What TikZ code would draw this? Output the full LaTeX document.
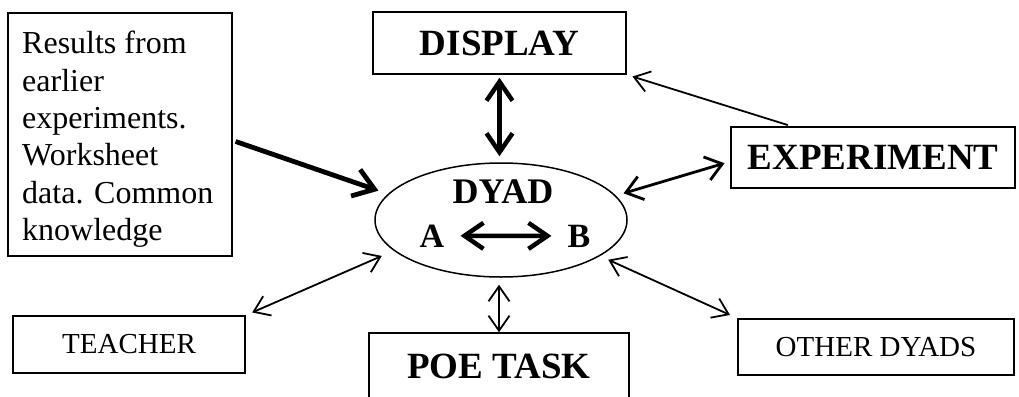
\documentclass[tikz,border=0pt]{standalone}
\usepackage{fontspec}
\setmainfont{Liberation Serif}
\usetikzlibrary{arrows.meta,shapes.geometric,calc}
\begin{document}
\begin{tikzpicture}[x=1pt,y=-1pt,
  box/.style={draw, line width=1.5pt, inner sep=0pt},
  bigtxt/.style={font=\fontsize{37}{40}\selectfont\bfseries},
  smalltxt/.style={font=\fontsize{29}{32}\selectfont},
  thinarr/.style={line width=1.8pt, {Straight Barb[length=15pt,width=21pt]}-{Straight Barb[length=15pt,width=21pt]}},
  thinone/.style={line width=1.8pt, -{Straight Barb[length=15pt,width=21pt]}},
  medarr/.style={line width=2.8pt, {Straight Barb[length=16pt,width=24pt]}-{Straight Barb[length=16pt,width=24pt]}},
  thickarr/.style={line width=4.5pt, {Straight Barb[length=19pt,width=26pt]}-{Straight Barb[length=19pt,width=26pt]}},
  thickone/.style={line width=4.8pt, -{Straight Barb[length=20pt,width=28pt]}}
]
\useasboundingbox (0,0) rectangle (1019,396);
\clip (0,0) rectangle (1019,396);

% boxes
\node[box, minimum width=224pt, minimum height=243pt] (res) at (120,134.5) {};
\node[anchor=north west, align=left, inner sep=0pt, font=\fontsize{32}{37.4}\selectfont] (restext) at (22,31)
  {Results from\\earlier\\experiments.\\Worksheet\\data. Common\\knowledge};

\node[box, bigtxt, minimum width=253pt, minimum height=62pt] (disp) at (499.5,43) {DISPLAY};
\node[box, bigtxt, minimum width=284pt, minimum height=61pt] (exp) at (873,157.5) {EXPERIMENT};
\node[box, bigtxt, minimum width=260pt, minimum height=67pt] (poe) at (499,366.5) {POE TASK};
\node[box, smalltxt, minimum width=232pt, minimum height=57pt] (teach) at (129,344.5) {TEACHER};
\node[box, smalltxt, minimum width=276pt, minimum height=56pt] (other) at (876,347) {OTHER DYADS};

% dyad
\node[draw, line width=1.5pt, ellipse, inner sep=0pt, minimum width=252pt, minimum height=114pt] (dyad) at (501,220) {};
\node[font=\fontsize{36}{40}\selectfont\bfseries, anchor=base] (dyadlbl) at (503,203) {DYAD};
\node[font=\fontsize{34}{38}\selectfont\bfseries, anchor=base, inner sep=0pt] (A) at (432,247) {A};
\node[font=\fontsize{34}{38}\selectfont\bfseries, anchor=base, inner sep=0pt] (B) at (579,247) {B};

% connectors
\draw[thickarr, shorten <=16pt, shorten >=16pt] (A.east) -- (B.west);
\draw[thickarr, shorten <=3pt, shorten >=6pt] (disp.south) -- (disp.south |- dyad.north);
\draw[thickone, shorten <=3pt, shorten >=10pt] ([yshift=-6pt]res.east) -- (dyad.167);
\draw[thinone, shorten <=4pt, shorten >=6pt] ($(exp.north west)!0.215!(exp.north east)$) -- (disp.south east);
\draw[medarr, shorten <=6pt, shorten >=8pt] ([yshift=-4pt]exp.west) -- (dyad.12);
\draw[thinarr, shorten <=7pt, shorten >=13pt] (teach.north east) -- (dyad.196);
\draw[thinarr, shorten <=0pt, shorten >=7pt] (poe.north) -- (poe.north |- dyad.south);
\draw[thinarr, shorten <=9pt, shorten >=8pt] (dyad.340) -- (other.north west);
\end{tikzpicture}
\end{document}
